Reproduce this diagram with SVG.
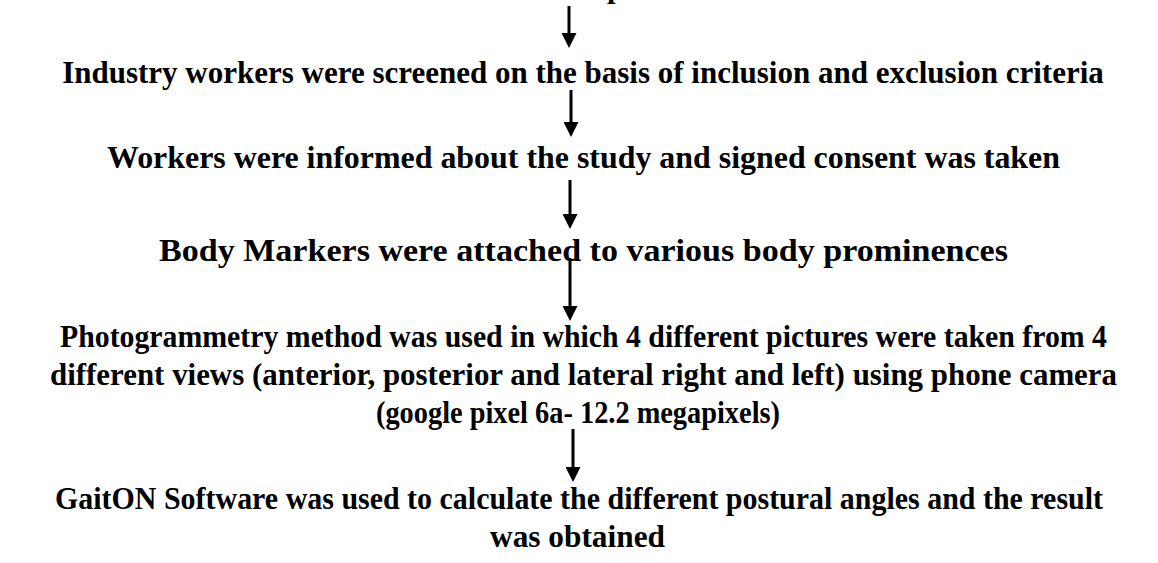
<svg xmlns="http://www.w3.org/2000/svg" width="1158" height="563" viewBox="0 0 1158 563">
<style>
text{font-family:"Liberation Serif","Times New Roman",serif;font-weight:bold;font-size:31px;fill:#000;text-anchor:middle}
.conn line{stroke:#000;stroke-width:3;marker-end:url(#ah)}
</style>
<defs>
<marker id="ah" markerUnits="userSpaceOnUse" markerWidth="15" markerHeight="15" refX="0" refY="7.5" orient="auto" viewBox="0 0 15 15">
<path d="M0,0 L15,7.5 L0,15 z" fill="#000"/>
</marker>
</defs>
<rect width="1158" height="563" fill="#fff"/>
<g id="top-fragment"><text x="607" y="-3" style="text-anchor:start">p</text></g>
<g id="n1"><text x="583" y="83">Industry workers were screened on the basis of inclusion and exclusion criteria</text></g>
<g id="n2"><text x="583.5" y="168" textLength="953" lengthAdjust="spacingAndGlyphs">Workers were informed about the study and signed consent was taken</text></g>
<g id="n3"><text x="583.5" y="261" textLength="849" lengthAdjust="spacingAndGlyphs">Body Markers were attached to various body prominences</text></g>
<g id="n4">
<text x="583.5" y="347" textLength="1047" lengthAdjust="spacingAndGlyphs">Photogrammetry method was used in which 4 different pictures were taken from 4</text>
<text x="583.5" y="385" textLength="1067" lengthAdjust="spacingAndGlyphs">different views (anterior, posterior and lateral right and left) using phone camera</text>
<text x="578" y="423" textLength="404" lengthAdjust="spacingAndGlyphs">(google pixel 6a- 12.2 megapixels)</text>
</g>
<g id="n5">
<text x="579" y="509" textLength="1048" lengthAdjust="spacingAndGlyphs">GaitON Software was used to calculate the different postural angles and the result</text>
<text x="577.5" y="547" textLength="175" lengthAdjust="spacingAndGlyphs">was obtained</text>
</g>
<g class="conn" id="connectors">
<line x1="569" y1="6" x2="569" y2="33"/>
<line x1="571" y1="90" x2="571" y2="122"/>
<line x1="570" y1="180" x2="570" y2="214"/>
<line x1="570" y1="258" x2="570" y2="306"/>
<line x1="573" y1="429" x2="573" y2="467"/>
</g>
</svg>
